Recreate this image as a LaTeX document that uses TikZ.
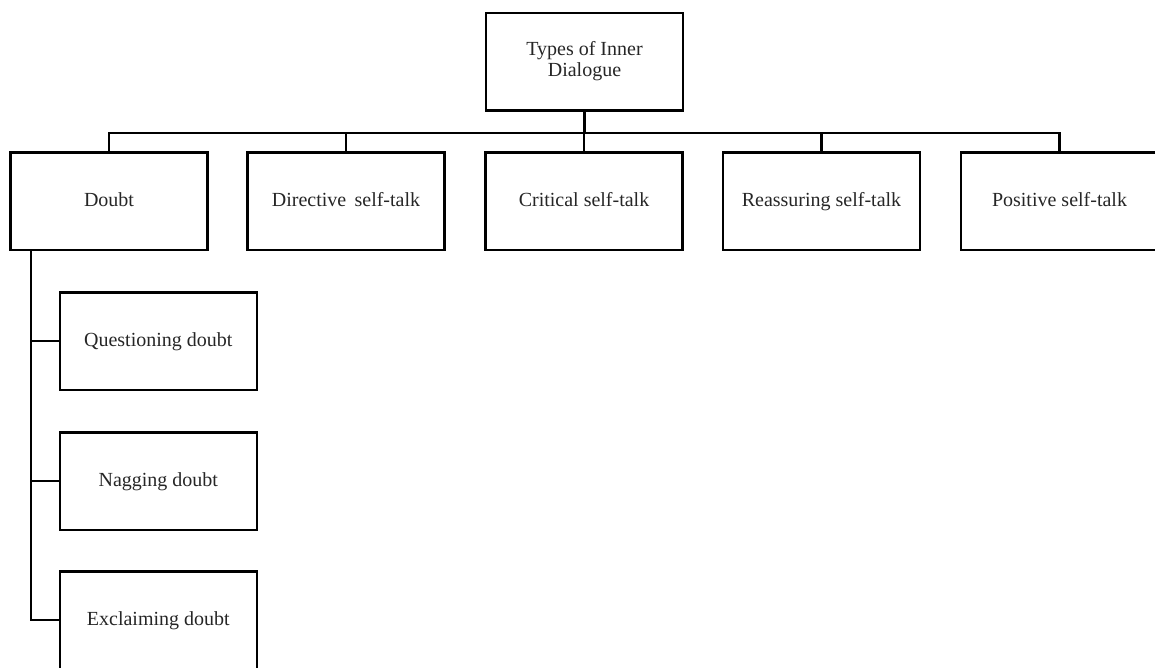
\documentclass[tikz,border=0pt]{standalone}
\usepackage{fontspec}
\setmainfont{Liberation Serif}
\begin{document}
\begin{tikzpicture}[x=1pt,y=1pt,
  box/.style={draw=black, line width=2.5pt, minimum width=197pt, minimum height=97.5pt,
    inner sep=0pt, align=center, font=\fontsize{20}{21}\selectfont, text=black!85},
  onebox/.style={box, text height=13pt, text depth=3pt},
  conn/.style={draw=black, line width=2.6pt}]
\useasboundingbox (0,0) rectangle (1155,-667);
\clip (0,0) rectangle (1155,-667);
\node[box] (top) at (584.5,-61.5) {Types of Inner\\Dialogue};
\node[onebox] (doubt) at (109,-201) {Doubt};
\node[onebox] (dir) at (346,-201) {Directive\, self-talk};
\node[onebox] (crit) at (584,-201) {Critical self-talk};
\node[onebox] (reas) at (821.5,-201) {Reassuring self-talk};
\node[onebox] (pos) at (1059.5,-201) {Positive self-talk};
\node[onebox] (q) at (158.3,-341) {Questioning doubt};
\node[onebox] (n) at (158.3,-481) {Nagging doubt};
\node[onebox] (e) at (158.3,-620) {Exclaiming doubt};
\foreach \c in {doubt,dir,crit,reas,pos}
  \draw[conn] (top.south) -- ++(0,-21.5) -| (\c.north);
\foreach \c in {q,n,e}
  \draw[conn] ([xshift=-78pt]doubt.south) |- (\c.west);
\end{tikzpicture}
\end{document}
